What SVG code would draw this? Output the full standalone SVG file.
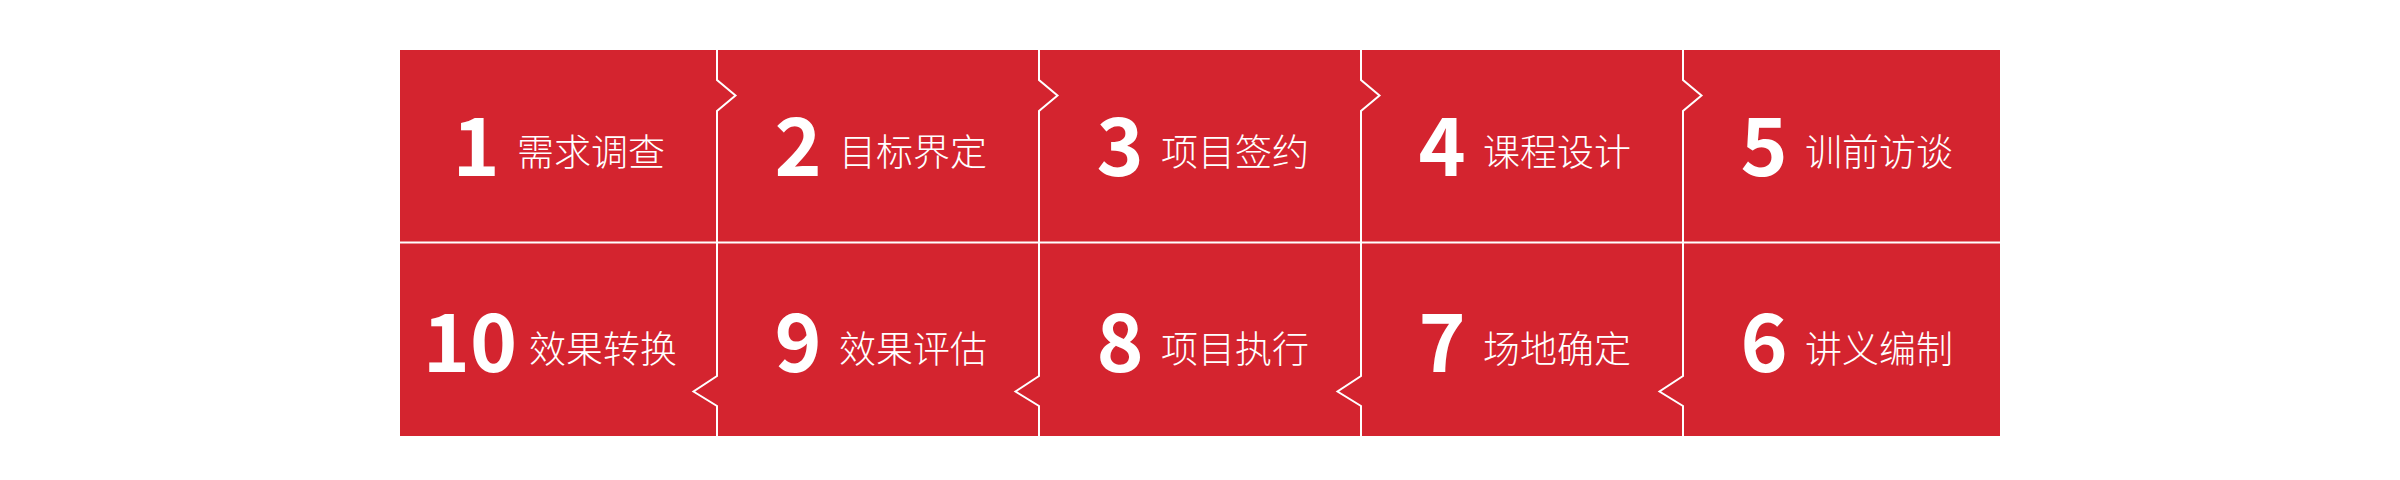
<svg xmlns="http://www.w3.org/2000/svg" width="2400" height="480" viewBox="0 0 2400 480">
<style>
.cell{fill:#d4242f;}
.num{font-family:"Noto Sans CJK SC","Noto Sans",sans-serif;font-weight:bold;font-size:80px;fill:#ffffff;text-anchor:middle;}
.lbl{font-family:"Noto Sans CJK SC",sans-serif;font-weight:300;font-size:37px;fill:#ffffff;}
.ln{fill:none;stroke:#ffffff;stroke-width:2;}
</style>
<rect width="2400" height="480" fill="#ffffff"/>
<g id="n1"><rect class="cell" x="400" y="50" width="317" height="192.5"/><text class="num" x="476" y="176">1</text><text class="lbl" x="517" y="166">需求调查</text></g>
<g id="n2"><rect class="cell" x="717" y="50" width="322" height="192.5"/><text class="num" x="798" y="176">2</text><text class="lbl" x="839" y="166">目标界定</text></g>
<g id="n3"><rect class="cell" x="1039" y="50" width="322" height="192.5"/><text class="num" x="1120" y="176">3</text><text class="lbl" x="1161" y="166">项目签约</text></g>
<g id="n4"><rect class="cell" x="1361" y="50" width="322" height="192.5"/><text class="num" x="1442" y="176">4</text><text class="lbl" x="1483" y="166">课程设计</text></g>
<g id="n5"><rect class="cell" x="1683" y="50" width="317" height="192.5"/><text class="num" x="1764" y="176">5</text><text class="lbl" x="1805" y="166">训前访谈</text></g>
<g id="n10"><rect class="cell" x="400" y="242.5" width="317" height="193.5"/><text class="num" x="470" y="372">10</text><text class="lbl" x="529" y="363">效果转换</text></g>
<g id="n9"><rect class="cell" x="717" y="242.5" width="322" height="193.5"/><text class="num" x="798" y="372">9</text><text class="lbl" x="839" y="363">效果评估</text></g>
<g id="n8"><rect class="cell" x="1039" y="242.5" width="322" height="193.5"/><text class="num" x="1120" y="372">8</text><text class="lbl" x="1161" y="363">项目执行</text></g>
<g id="n7"><rect class="cell" x="1361" y="242.5" width="322" height="193.5"/><text class="num" x="1442" y="372">7</text><text class="lbl" x="1483" y="363">场地确定</text></g>
<g id="n6"><rect class="cell" x="1683" y="242.5" width="317" height="193.5"/><text class="num" x="1764" y="372">6</text><text class="lbl" x="1805" y="363">讲义编制</text></g>
<g id="connectors">
<line class="ln" x1="400" y1="242.5" x2="2000" y2="242.5"/>
<polyline class="ln" points="717,50 717,80 735.5,95.5 717,111 717,242.5"/>
<polyline class="ln" points="1039,50 1039,80 1057.5,95.5 1039,111 1039,242.5"/>
<polyline class="ln" points="1361,50 1361,80 1379.5,95.5 1361,111 1361,242.5"/>
<polyline class="ln" points="1683,50 1683,80 1701.5,95.5 1683,111 1683,242.5"/>
<polyline class="ln" points="717,242.5 717,376 693.5,391.5 717,406 717,436"/>
<polyline class="ln" points="1039,242.5 1039,376 1015.5,391.5 1039,406 1039,436"/>
<polyline class="ln" points="1361,242.5 1361,376 1337.5,391.5 1361,406 1361,436"/>
<polyline class="ln" points="1683,242.5 1683,376 1659.5,391.5 1683,406 1683,436"/>
</g>
</svg>
